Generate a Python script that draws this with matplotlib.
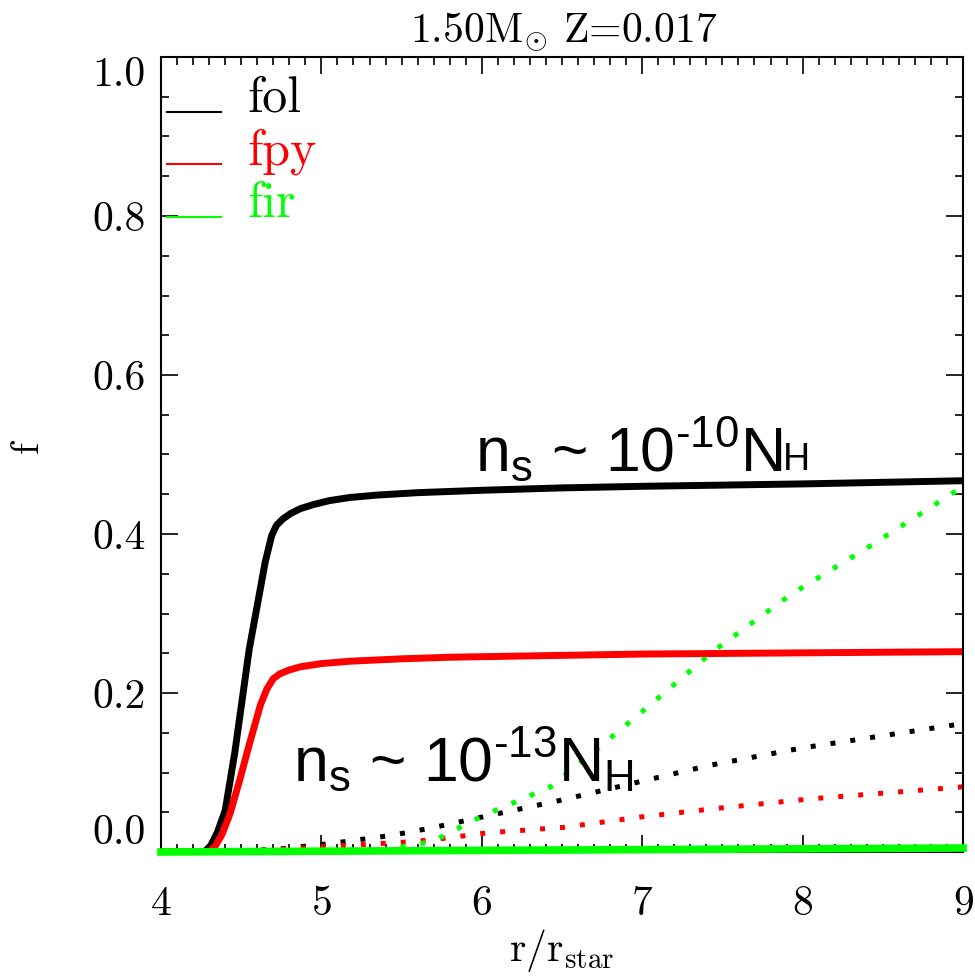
import matplotlib
matplotlib.use("Agg")
import matplotlib.pyplot as plt
from matplotlib.ticker import MultipleLocator

plt.rcParams.update({"font.family": "cmr10", "axes.formatter.use_mathtext": True,
                     "mathtext.fontset": "custom", "mathtext.rm": "Liberation Sans",
                     "mathtext.it": "Liberation Sans:italic"})

# n_s ~ 1e-10 N_H (solid lines)
r_fol = [4.0, 4.27, 4.31, 4.35, 4.40, 4.46, 4.55, 4.65, 4.69, 4.72, 4.76, 4.81, 4.87, 4.95, 5.05,
         5.18, 5.35, 5.6, 6.0, 6.5, 7.0, 8.0, 9.0]
fol = [0.0, 0.0, 0.008, 0.024, 0.052, 0.125, 0.255, 0.365, 0.398, 0.411, 0.419, 0.426, 0.432,
       0.437, 0.442, 0.446, 0.449, 0.452, 0.455, 0.458, 0.460, 0.463, 0.467]
r_fpy = [4.0, 4.30, 4.34, 4.38, 4.43, 4.49, 4.55, 4.62, 4.66, 4.70, 4.74, 4.80, 4.87, 5.0,
         5.18, 5.5, 5.8, 7.0, 9.0]
fpy = [0.0, 0.0, 0.008, 0.022, 0.048, 0.090, 0.135, 0.185, 0.205, 0.218, 0.224, 0.229, 0.233,
       0.237, 0.240, 0.243, 0.245, 0.249, 0.252]
r_fir = [4.0, 6.0, 9.0]
fir = [0.0, 0.002, 0.005]

# n_s ~ 1e-13 N_H (dotted lines)
r_fol2 = [4.0, 4.3, 4.7, 5.07, 5.44, 5.68, 5.91, 6.49, 7.42, 8.0, 8.95, 9.0]
fol2 = [0.0, 0.0, 0.003, 0.011, 0.021, 0.030, 0.040, 0.065, 0.109, 0.131, 0.160, 0.162]
r_fpy2 = [4.0, 4.4, 4.97, 5.57, 5.80, 6.03, 6.51, 6.99, 7.47, 8.06, 9.0]
fpy2 = [0.0, 0.0, 0.006, 0.013, 0.018, 0.024, 0.031, 0.044, 0.055, 0.067, 0.082]
r_fir2 = [4.0, 5.3, 5.69, 6.0, 6.43, 6.71, 6.99, 7.44, 7.92, 8.43, 8.94, 9.0]
fir2 = [0.0, 0.0, 0.013, 0.045, 0.082, 0.128, 0.175, 0.252, 0.323, 0.386, 0.452, 0.458]

labels = ["fol", "fpy", "fir"]
colors = ["#000000", "#ff0000", "#00ff00"]
xticks = [4, 5, 6, 7, 8, 9]
yticks = [0.0, 0.2, 0.4, 0.6, 0.8, 1.0]

fig = plt.figure(figsize=(9.75, 9.8), dpi=100)
ax = fig.add_axes([161 / 975, 1 - 852 / 980, 802 / 975, 795 / 980])

dot = dict(lw=3.6, dashes=(1, 3.0), dash_capstyle="butt")
for r, v, c in [(r_fol2, fol2, colors[0]), (r_fpy2, fpy2, colors[1]), (r_fir2, fir2, colors[2])]:
    ax.plot(r, v, color=c, **dot)
ax.plot(r_fol, fol, color=colors[0], lw=5, solid_joinstyle="round")
ax.plot(r_fpy, fpy, color=colors[1], lw=5, solid_joinstyle="round")
ax.plot(r_fir, fir, color=colors[2], lw=5.5, clip_on=False, zorder=3)

ax.set_xlim(4, 9)
ax.set_ylim(0, 1)
ax.set_xticks(xticks)
ax.set_yticks(yticks)
ax.set_yticklabels([f"{t:.1f}" for t in yticks])
ax.xaxis.set_minor_locator(MultipleLocator(0.1))
ax.yaxis.set_minor_locator(MultipleLocator(0.05))
ax.tick_params(which="both", direction="in", top=True, right=True, width=1.2, labelsize=30)
ax.tick_params(which="major", length=12)
ax.tick_params(which="minor", length=6)
ax.tick_params(axis="x", pad=24)
ax.tick_params(axis="y", pad=11)
for s in ax.spines.values():
    s.set_linewidth(1.5)
ylabs = ax.get_yticklabels()
ylabs[0].set_va("bottom")
ylabs[-1].set_va("top")

# IDL-style legend in the top left corner
for i, (lab, c) in enumerate(zip(labels, colors)):
    y = 0.931 - 0.066 * i
    ax.plot([0.0075, 0.075], [y, y], color=c, lw=1.5, transform=ax.transAxes, clip_on=False)
    ax.text(0.108, y, lab, color=c, fontsize=36, va="baseline", ha="left", transform=ax.transAxes)

HY = "\u2010"
t1 = ax.text(5.96, 0.48, r"n$_{\mathrm{s}}$ ~ 10$^{\mathrm{" + HY + "10}}$N", fontsize=45,
             family="Liberation Sans", va="baseline", ha="left")
ax.annotate("H", xy=(1.0, 0.48), xycoords=(t1, "data"), fontsize=27,
            family="Liberation Sans", va="baseline", ha="left")
ax.text(4.82, 0.09, r"n$_{\mathrm{s}}$ ~ 10$^{\mathrm{" + HY + "13}}$N$_{\mathrm{H}}$",
        fontsize=45, family="Liberation Sans", va="baseline", ha="left")

fig.text(564 / 975, 1 - 42 / 980, r"1.50M$_{\odot}$ Z=0.017", fontsize=30, ha="center",
         va="baseline", math_fontfamily="cm")
fig.text(562 / 975, 1 - 950 / 980, r"r/r$_{\rm star}$", fontsize=30, ha="center", va="center",
         math_fontfamily="cm")
fig.text(28 / 975, 1 - 447 / 980, "f", fontsize=28, rotation=90, ha="center", va="center")

fig.savefig("out.png", dpi=100)
